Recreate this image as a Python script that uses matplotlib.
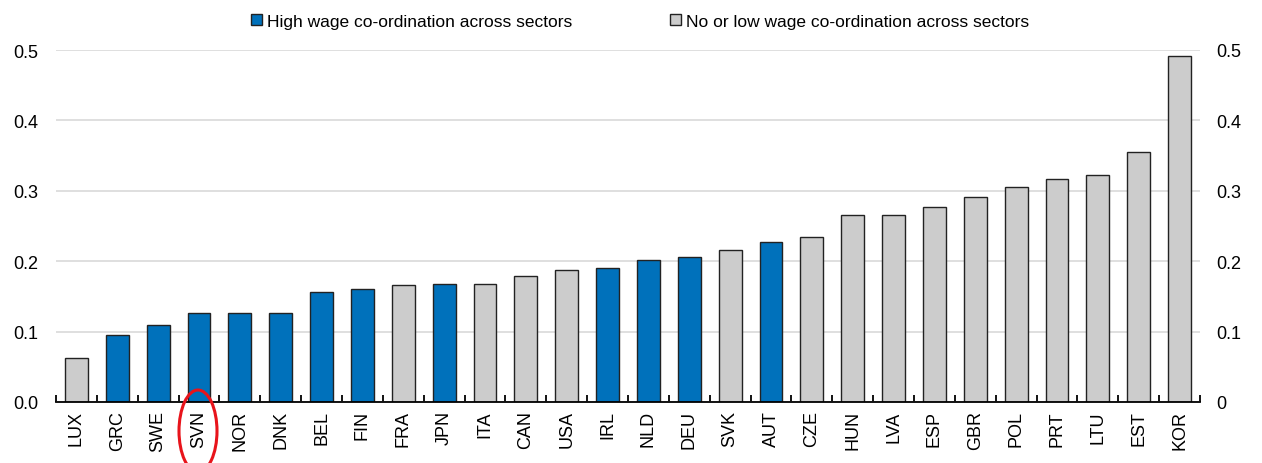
import matplotlib
matplotlib.use("Agg")
import matplotlib.pyplot as plt
from matplotlib.patches import Patch, Ellipse
import numpy as np

plt.rcParams['font.family'] = ['Liberation Sans', 'DejaVu Sans']

countries = ["LUX", "GRC", "SWE", "SVN", "NOR", "DNK", "BEL", "FIN", "FRA", "JPN",
             "ITA", "CAN", "USA", "IRL", "NLD", "DEU", "SVK", "AUT", "CZE", "HUN",
             "LVA", "ESP", "GBR", "POL", "PRT", "LTU", "EST", "KOR"]
values = [0.062, 0.095, 0.109, 0.126, 0.126, 0.127, 0.156, 0.161, 0.166, 0.167,
          0.167, 0.179, 0.188, 0.191, 0.202, 0.206, 0.216, 0.227, 0.234, 0.265,
          0.265, 0.277, 0.291, 0.306, 0.317, 0.323, 0.355, 0.491]
high_coord = [False, True, True, True, True, True, True, True, False, True,
              False, False, False, True, True, True, False, True, False, False,
              False, False, False, False, False, False, False, False]
legend_labels = ["High wage co-ordination across sectors",
                 "No or low wage co-ordination across sectors"]
left_ticks = [0.0, 0.1, 0.2, 0.3, 0.4, 0.5]
left_ticklabels = ["0.0", "0.1", "0.2", "0.3", "0.4", "0.5"]
right_ticklabels = ["0", "0.1", "0.2", "0.3", "0.4", "0.5"]

BLUE = "#0071BB"
GREY = "#CCCCCC"
FS = 13

fig = plt.figure(figsize=(12.62, 4.64), dpi=100)
ax = fig.add_axes([56/1262, 1 - 403/464, (1200-56)/1262, (403-51)/464])

x = np.arange(len(countries))
colors = [BLUE if h else GREY for h in high_coord]
ax.bar(x, values, width=0.56, color=colors, edgecolor="#222222", linewidth=1.0, zorder=3)

ax.set_xlim(-0.5, len(countries) - 0.5)
ax.set_ylim(0, 0.5)
ax.set_yticks(left_ticks)
ax.set_yticklabels(left_ticklabels)
ax.yaxis.grid(True, color="#D9D9D9", linewidth=1.2, zorder=0)
ax.set_axisbelow(True)
for s in ["top", "left", "right"]:
    ax.spines[s].set_visible(False)
ax.spines["bottom"].set_color("black")
ax.spines["bottom"].set_linewidth(1.3)
ax.spines["bottom"].set_zorder(4)

ax.set_xticks(x)
ax.set_xticklabels(countries, rotation=90, fontsize=FS)
ax.tick_params(axis="x", which="major", length=0, pad=6)
ax.set_xticks(np.arange(-0.5, len(countries) + 0.5, 1), minor=True)
ax.tick_params(axis="x", which="minor", direction="in", length=5, width=1.3, color="black")
ax.tick_params(axis="y", length=0, labelsize=FS, pad=13)

ax2 = ax.twinx()
ax2.set_ylim(0, 0.5)
ax2.set_yticks(left_ticks)
ax2.set_yticklabels(right_ticklabels)
ax2.tick_params(axis="y", length=0, labelsize=FS, pad=12)
for s in ["top", "left", "right", "bottom"]:
    ax2.spines[s].set_visible(False)

handles = [Patch(facecolor=BLUE, edgecolor="#222222", linewidth=1.0),
           Patch(facecolor=GREY, edgecolor="#222222", linewidth=1.0)]
fig.legend(handles, legend_labels, loc="center", bbox_to_anchor=(640/1262, 1 - 22/464),
           ncol=2, frameon=False, fontsize=12.5, handlelength=0.65, handleheight=0.65,
           handletextpad=0.3, columnspacing=5.6, borderpad=0)

ell = Ellipse((198/1262, 1 - 432/464), 38/1262, 82/464, transform=fig.transFigure,
              facecolor="none", edgecolor="#E8141B", linewidth=2.2, clip_on=False)
fig.patches.append(ell)

fig.savefig("out.png", dpi=100)
